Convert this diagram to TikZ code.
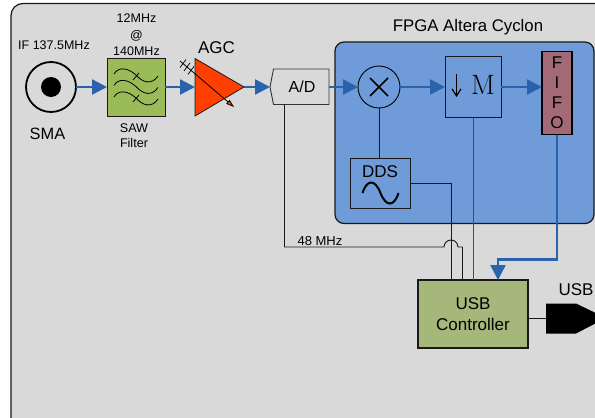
\documentclass[tikz,border=0pt]{standalone}
\usepackage{fontspec}
\setmainfont{Liberation Sans}
\newfontfamily\mfont{Latin Modern Roman}
\usetikzlibrary{arrows.meta}
\definecolor{panel}{HTML}{D9D9D9}
\definecolor{fpgablue}{HTML}{6F9BD9}
\definecolor{sawgreen}{HTML}{9BBB59}
\definecolor{usbgreen}{HTML}{A5B77A}
\definecolor{fifored}{HTML}{A16A76}
\definecolor{agcred}{HTML}{FF3F00}
\definecolor{flow}{HTML}{2A62AC}
\tikzset{
  x=1pt,y=-1pt,
  flowline/.style={draw=flow,line width=2.4pt,-{Triangle[length=15pt,width=15pt,inset=0pt]}},
  sigline/.style={draw=black!90,line width=0.9pt},
  box/.style={draw=black!90,line width=1pt,inner sep=0pt,outer sep=0pt,align=center},
  lbl/.style={inner sep=0pt,outer sep=0pt,align=center,text=black},
}
\begin{document}
\begin{tikzpicture}
\useasboundingbox (0,0) rectangle (595,418);
\clip (0,0) rectangle (595,418);
\fill[white] (0,0) rectangle (595,418);
\draw[fill=panel,draw=black!90,line width=1.2pt,rounded corners=12pt] (11,3.5) rectangle (640,460);
\node[lbl,font=\fontsize{16.8}{19}\selectfont] (fpgat) at (468,27) {FPGA Altera Cyclon};
\draw[fill=fpgablue,draw=black!90,line width=1.2pt,rounded corners=9pt] (335,42) rectangle (594,223.5);
% SMA
\node[circle,draw=black,line width=1.8pt,fill=panel,minimum size=50pt,inner sep=0pt,outer sep=0pt] (sma) at (51,87) {};
\fill[black] (sma.center) circle (10pt);
\node[lbl,font=\fontsize{12.5}{14}\selectfont] (ift) at (54,45) {IF 137.5MHz};
\node[lbl,font=\fontsize{16.4}{18}\selectfont] (smat) at (47.5,134) {SMA};
% SAW
\node[box,fill=sawgreen,minimum width=58pt,minimum height=58pt] (saw) at (136,87) {};
\foreach \d in {0,11.5,23}{
  \draw[black,line width=0.8pt] (114,{74+\d}) .. controls (118,{67+\d}) and (127,{67+\d}) .. (136,{75+\d}) .. controls (143,{83+\d}) and (152,{85+\d}) .. (158,{76+\d});
}
\draw[black,line width=0.8pt] (133,80) -- (139,73);
\draw[black,line width=0.8pt] (133,102) -- (139,95);
\node[lbl,font=\fontsize{12.5}{16.5}\selectfont] (sawt) at (136.5,35) {12MHz\\@\\140MHz};
\node[lbl,font=\fontsize{12.6}{15}\selectfont] (sawb) at (134,136) {SAW\\Filter};
% AGC
\coordinate (agcl) at (195,87);
\coordinate (agcr) at (244,87);
\filldraw[fill=agcred,draw=black!90,line width=0.8pt] (195,58.5) -- (agcr) -- (195,116) -- cycle;
\coordinate (vgs) at (180,61);
\coordinate (vge) at (234,107);
\draw[black,line width=0.8pt,-{Triangle[length=8pt,width=5pt,inset=0pt,fill=agcred]}] (vgs) -- (vge);
\foreach \p in {183,187,191}{ \draw[black,line width=0.7pt] (\p-3,{61+(\p-180)*0.85+4}) -- (\p+3,{61+(\p-180)*0.85-4}); }
\node[lbl,font=\fontsize{17}{19}\selectfont] (agct) at (216.5,48) {AGC};
% A/D
\coordinate (adl) at (270,87);
\coordinate (adr) at (329,87);
\coordinate (adb) at (284.5,104.5);
\filldraw[fill=panel,draw=black!80,line width=0.9pt] (adl) -- (273.5,69) -- (329,69) -- (329,104.5) -- (273.5,104.5) -- cycle;
\node[lbl,font=\fontsize{16}{18}\selectfont] (adt) at (302,87) {A/D};
% mixer
\node[circle,draw=black,line width=0.9pt,minimum size=42pt,inner sep=0pt,outer sep=0pt] (mix) at (379,87) {};
\draw[black,line width=1.6pt] (370,78) -- (388,96) (388,78) -- (370,96);
% decimator
\node[box,minimum width=56pt,minimum height=61pt] (dec) at (473,87) {};
\node[lbl,font=\mfont\fontsize{28}{28}\selectfont] (dect) at (483,85) {M};
\draw[black,line width=1.2pt,-{Straight Barb[length=7pt,width=9pt]}] (456.5,74) -- (456.5,97);
% FIFO
\node[box,draw=black,line width=1.2pt,fill=fifored,minimum width=30pt,minimum height=83pt] (fifo) at (557,93) {};
\node[lbl,font=\fontsize{17}{20}\selectfont] (fifot) at (557,93) {F\\I\\F\\O};
% DDS
\node[box,minimum width=60pt,minimum height=50pt] (dds) at (380,183) {};
\node[lbl,font=\fontsize{17}{19}\selectfont] (ddst) at (380,172) {DDS};
\draw[black,line width=2pt] (362.5,193) .. controls (367,179) and (375,179) .. (380.5,193) .. controls (386,207) and (394,207) .. (398.5,193);
% USB controller
\node[box,fill=usbgreen,line width=1.2pt,minimum width=110pt,minimum height=68pt,font=\fontsize{17}{20.5}\selectfont] (ctl) at (473,314) {USB\\Controller};
% USB plug
\coordinate (plug) at (546,318);
\fill[black] (plug) -- (546,303.5) -- (576,303.5) -- (606,318) -- (576,333.5) -- (546,333.5) -- cycle;
\node[lbl,font=\fontsize{17}{19}\selectfont] (usbt) at (576,290) {USB};
% flow connectors
\draw[flowline] (sma.east) -- (saw.west);
\draw[flowline] (saw.east) -- (agcl);
\draw[flowline] (agcr) -- (adl);
\draw[flowline] (adr) -- (mix.west);
\draw[flowline] (mix.east) -- (dec.west);
\draw[flowline] (dec.east) -- (dec.east -| fifo.west);
\draw[flowline] (fifo.south) -- (557,259.5) -- (498,259.5) -- (498,280);
% signal connectors
\draw[sigline] (mix.south) -- (mix.south |- dds.north);
\draw[sigline] (dds.east |- 0,183) -- (451,183) -- (451,280);
\draw[sigline,draw=black!70] (dec.south) -- (473,280);
\draw[sigline] (adb) -- (284.5,247) -- (444,247) arc[start angle=180,end angle=0,radius=7pt] -- (462.5,247);
\draw[sigline] (462.5,247) -- (462.5,280);
\draw[sigline] (ctl.east |- plug) -- (plug);
\node[lbl,font=\fontsize{13}{15}\selectfont] (mhz) at (320,241) {48 MHz};
\end{tikzpicture}
\end{document}
